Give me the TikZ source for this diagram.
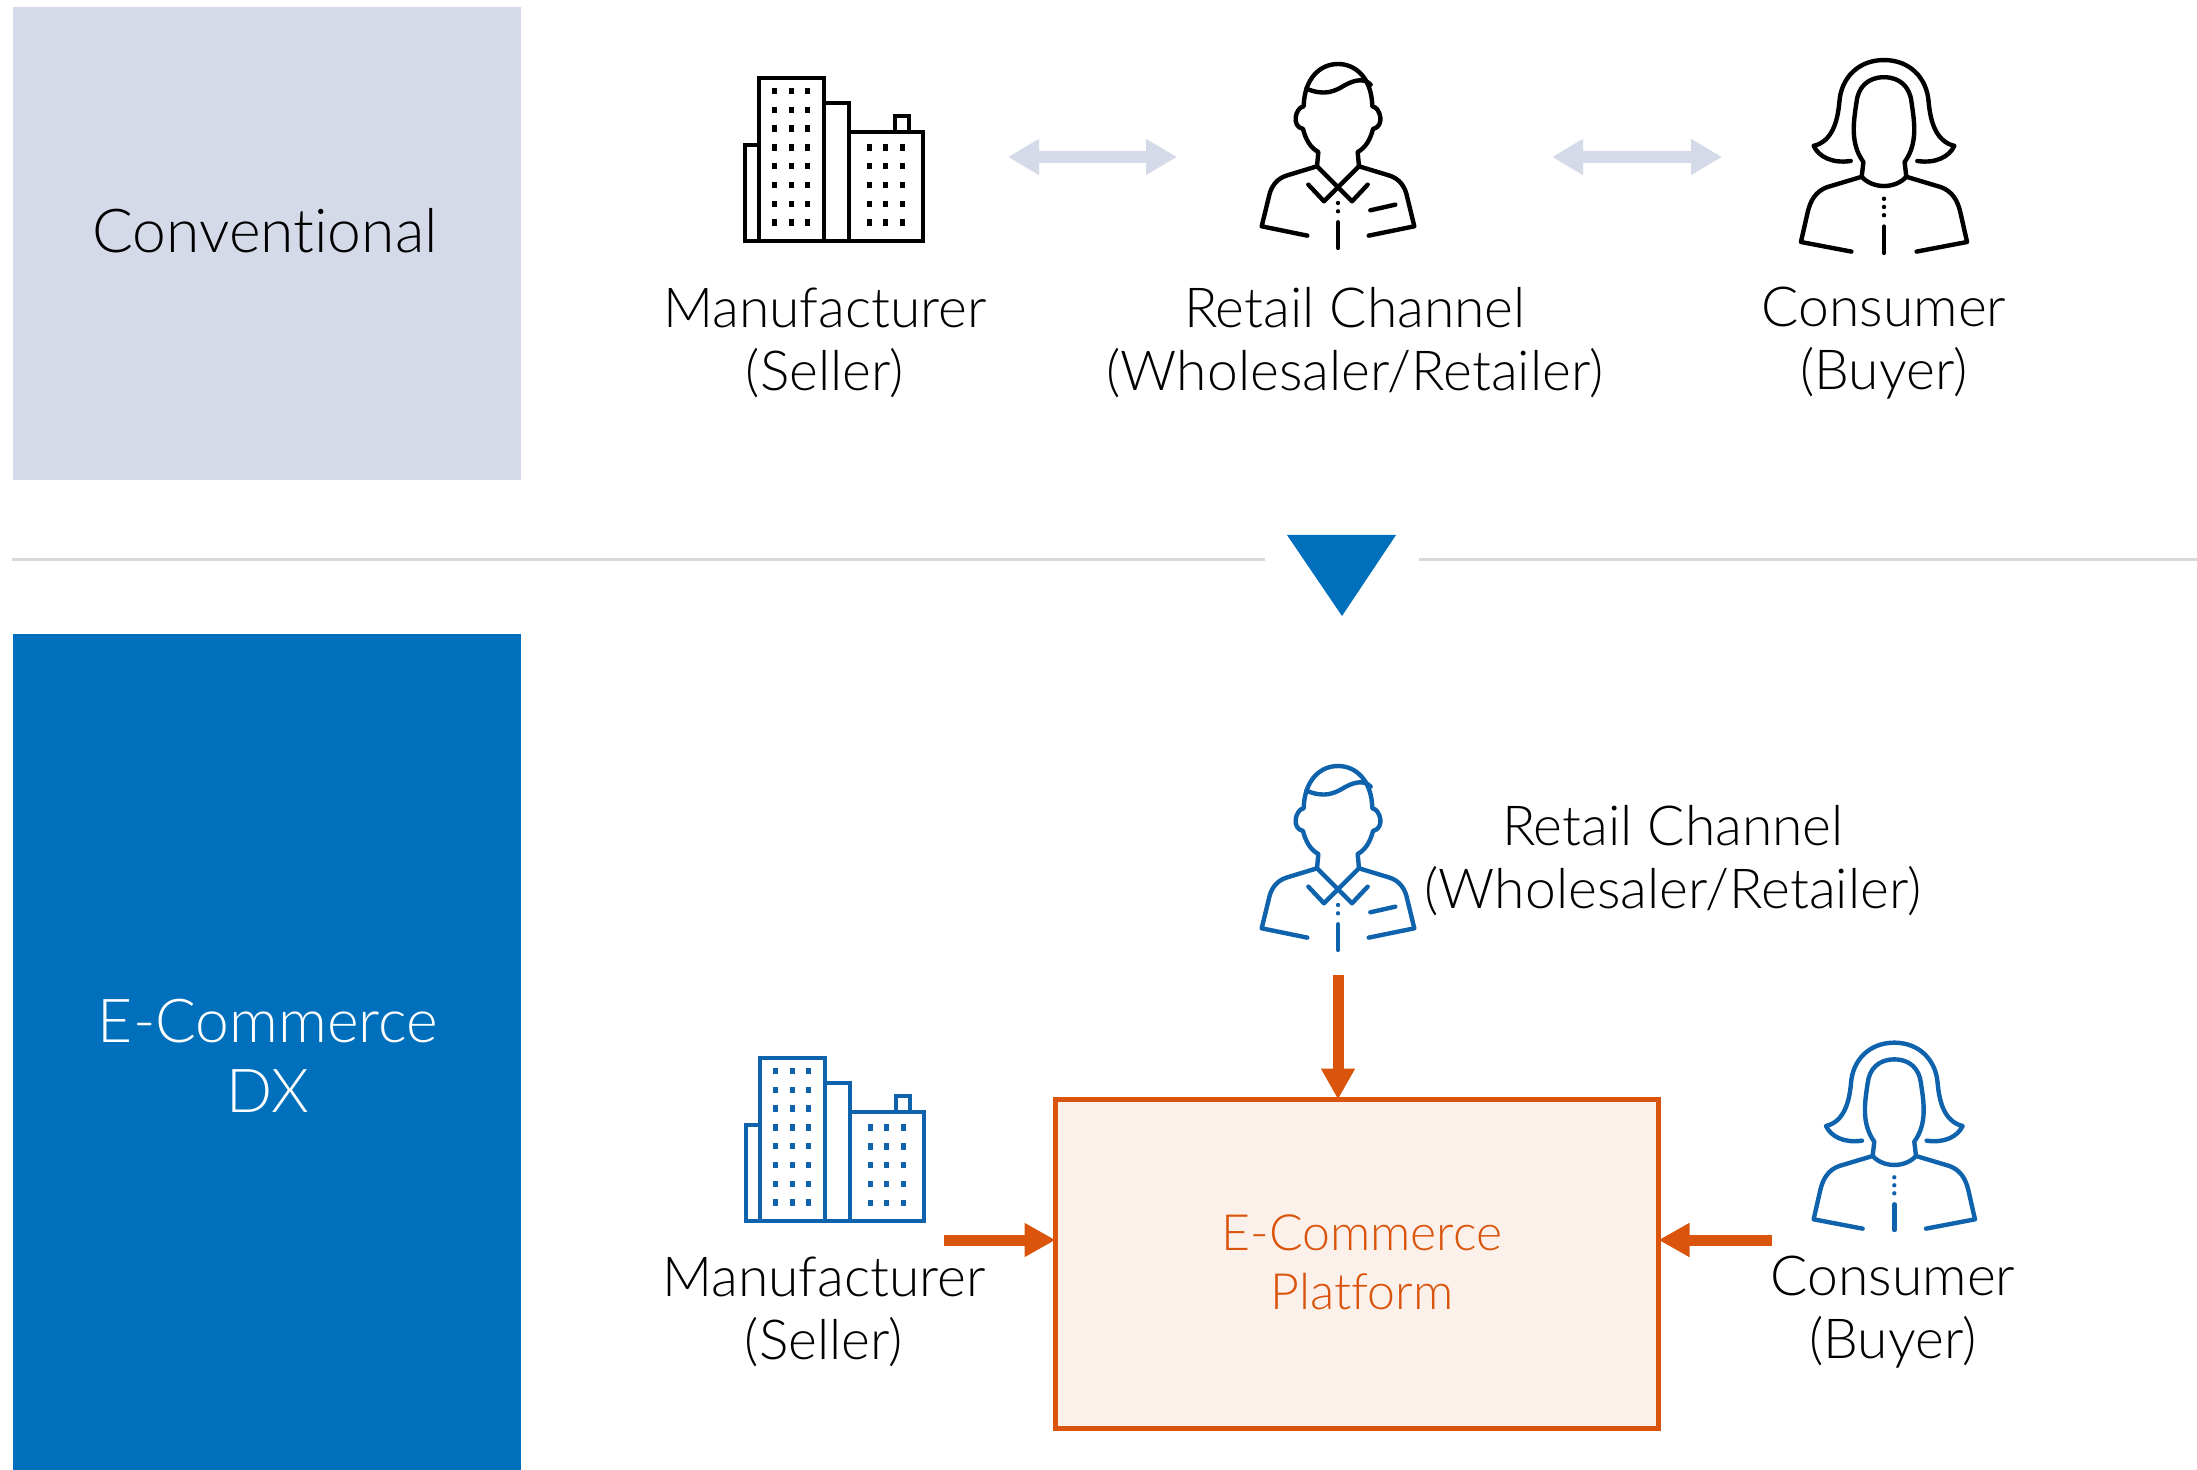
\documentclass[tikz,border=0pt]{standalone}
\usepackage{fontspec}
\setmainfont{Lato}[UprightFont=* Light,Ligatures=NoCommon]
\usepackage{tikz}
\usetikzlibrary{arrows.meta}
\definecolor{palegrey}{HTML}{D5DAE8}
\definecolor{dxblue}{HTML}{0070BC}
\definecolor{iconblue}{HTML}{0F62AC}
\definecolor{rustline}{HTML}{DA540C}
\definecolor{rustfill}{HTML}{FBF0EA}
\definecolor{rulegrey}{HTML}{D9D9D9}
\newcommand{\labelsize}{\fontsize{27.6}{31.5}\selectfont}
\newcommand{\bandsize}{\fontsize{30.3}{35}\selectfont}
\newcommand{\platsize}{\fontsize{25}{29.5}\selectfont}
\tikzset{
    iconline/.style={line width=2.2pt,line join=round,line cap=round},
    blockline/.style={line width=2.3pt,line join=miter,line cap=butt},
    bandbox/.style={anchor=north west,inner sep=0pt,outer sep=0pt},
    paletip/.style={<->,>={Triangle[length=15.5pt,width=17pt]},palegrey,line width=6pt},
    rusttip/.style={-{Triangle[length=15.5pt,width=16pt]},rustline,line width=5.5pt},
    pics/buildingicon/.style={code={
        \draw[blockline,#1] (0,67) rectangle (14,163);
        \draw[blockline,#1] (14,0) rectangle (79,163);
        \draw[blockline,#1] (79,25) rectangle (104,163);
        \draw[blockline,#1] (104,54) rectangle (178,163);
        \draw[blockline,#1] (150,38) rectangle (164,54);
        \foreach \i in {0,...,7}
            \foreach \j in {29.5,46,62.5}
                \fill[#1] (\j-2.5,13+18.8*\i-3.2) rectangle (\j+2.5,13+18.8*\i+3.2);
        \foreach \i in {0,...,4}
            \foreach \j in {124,140,157}
                \fill[#1] (\j-2.5,69.5+18.8*\i-3.2) rectangle (\j+2.5,69.5+18.8*\i+3.2);
    }},
    pics/manicon/.style={code={
        \foreach \s in {1,-1}{
            \begin{scope}[xscale=\s]
                \draw[iconline,#1] (0,48) .. controls (53,48) and (101,90) .. (103,175)
                    .. controls (127,178) and (142,235) .. (105,243)
                    .. controls (97,275) and (82,300) .. (59,312) -- (63,355) -- (152,382)
                    .. controls (187,392) and (202,420) .. (207,445) -- (229,535) -- (92,563);
                \draw[iconline,#1] (-63,355) -- (42,460) -- (89,410);
            \end{scope}
        }
        \draw[iconline,#1] (-95,122) .. controls (-40,145) and (-10,130) .. (20,112)
            .. controls (50,95) and (80,90) .. (98,110);
        \fill[#1] (0,465) circle (6.5) (0,490) circle (6.5);
        \draw[iconline,#1] (0,523) -- (0,600);
        \draw[iconline,#1] (97,487) -- (172,470);
    }},
    pics/womanicon/.style={code={
        \foreach \s in {1,-1}{
            \begin{scope}[xscale=\s]
                \draw[iconline,#1] (0,38) .. controls (75,38) and (125,90) .. (130,160)
                    .. controls (135,215) and (150,275) .. (205,288)
                    .. controls (190,320) and (150,340) .. (97,332);
                \draw[iconline,#1] (0,88) .. controls (45,88) and (75,115) .. (80,160)
                    .. controls (88,215) and (100,280) .. (60,335) -- (65,378);
                \draw[iconline,#1] (0,405) .. controls (25,405) and (50,395) .. (65,378)
                    -- (165,408) .. controls (200,420) and (215,450) .. (222,480)
                    -- (242,568) -- (95,596);
            \end{scope}
        }
        \fill[#1] (0,442) circle (6.5) (0,466) circle (6.5) (0,490) circle (6.5);
        \draw[iconline,#1] (0,523) -- (0,600);
    }},
}
\begin{document}
\begin{tikzpicture}[x=0.5pt,y=-0.5pt]
    \useasboundingbox (0,0) rectangle (2197,1470);
    \node[bandbox,fill=palegrey,minimum width=254pt,minimum height=236.5pt] (conventional) at (13,7) {};
    \node[bandbox,fill=dxblue,minimum width=254pt,minimum height=418pt] (dxband) at (13,634) {};
    \node[font=\bandsize] (conventionaltext) at (265,231) {Conventional};
    \node[font=\bandsize,text=white,align=center] (dxtext) at (268,1056) {E-Commerce\\DX};
    % top row
    \pic at (745,78) {buildingicon=black};
    \pic[scale=0.3333] at (1338,48) {manicon=black};
    \pic[scale=0.3433] at (1884,47) {womanicon=black};
    \node[font=\labelsize,align=center] (sellertop) at (825,343) {Manufacturer\\(Seller)};
    \node[font=\labelsize,align=center] (retailtop) at (1355,343) {Retail Channel\\(Wholesaler/Retailer)};
    \node[font=\labelsize,align=center] (buyertop) at (1884,343) {Consumer\\(Buyer)};
    \coordinate (P) at (1008,157);
    \coordinate (Q) at (1177,157);
    \coordinate (R) at (1552,157);
    \coordinate (S) at (1722,157);
    \draw[paletip] (P) -- (Q);
    \draw[paletip] (R) -- (S);
    % divider
    \coordinate (A) at (12,560);
    \coordinate (B) at (1265,560);
    \coordinate (C) at (1419,560);
    \coordinate (D) at (2197,560);
    \draw[rulegrey,line width=1.5pt] (A) -- (B);
    \draw[rulegrey,line width=1.5pt] (C) -- (D);
    \fill[dxblue] (1287,535) -- (1396,535) -- (1342,616) -- cycle;
    % bottom row
    \node[draw=rustline,fill=rustfill,line width=2.5pt,minimum width=301.5pt,minimum height=164.5pt,outer sep=0pt] (platform) at (1357,1264) {};
    \node[font=\platsize,text=rustline,align=center] (platformtext) at (1362,1262) {E-Commerce\\Platform};
    \pic at (746,1058) {buildingicon=iconblue};
    \pic[scale=0.3333] at (1338,750) {manicon=iconblue};
    \pic[scale=0.3333] at (1894.3,1030) {womanicon=iconblue};
    \node[font=\labelsize,align=center] (retailbottom) at (1673,861) {Retail Channel\\(Wholesaler/Retailer)};
    \node[font=\labelsize,align=center] (sellerbottom) at (824,1312) {Manufacturer\\(Seller)};
    \node[font=\labelsize,align=center] (buyerbottom) at (1893,1312) {Consumer\\(Buyer)};
    \coordinate (E) at (1338,975);
    \coordinate (F) at (944,1240);
    \coordinate (G) at (1772,1240);
    \draw[rusttip] (E) -- (E |- platform.north);
    \draw[rusttip] (F) -- (F -| platform.west);
    \draw[rusttip] (G) -- (G -| platform.east);
\end{tikzpicture}
\end{document}
